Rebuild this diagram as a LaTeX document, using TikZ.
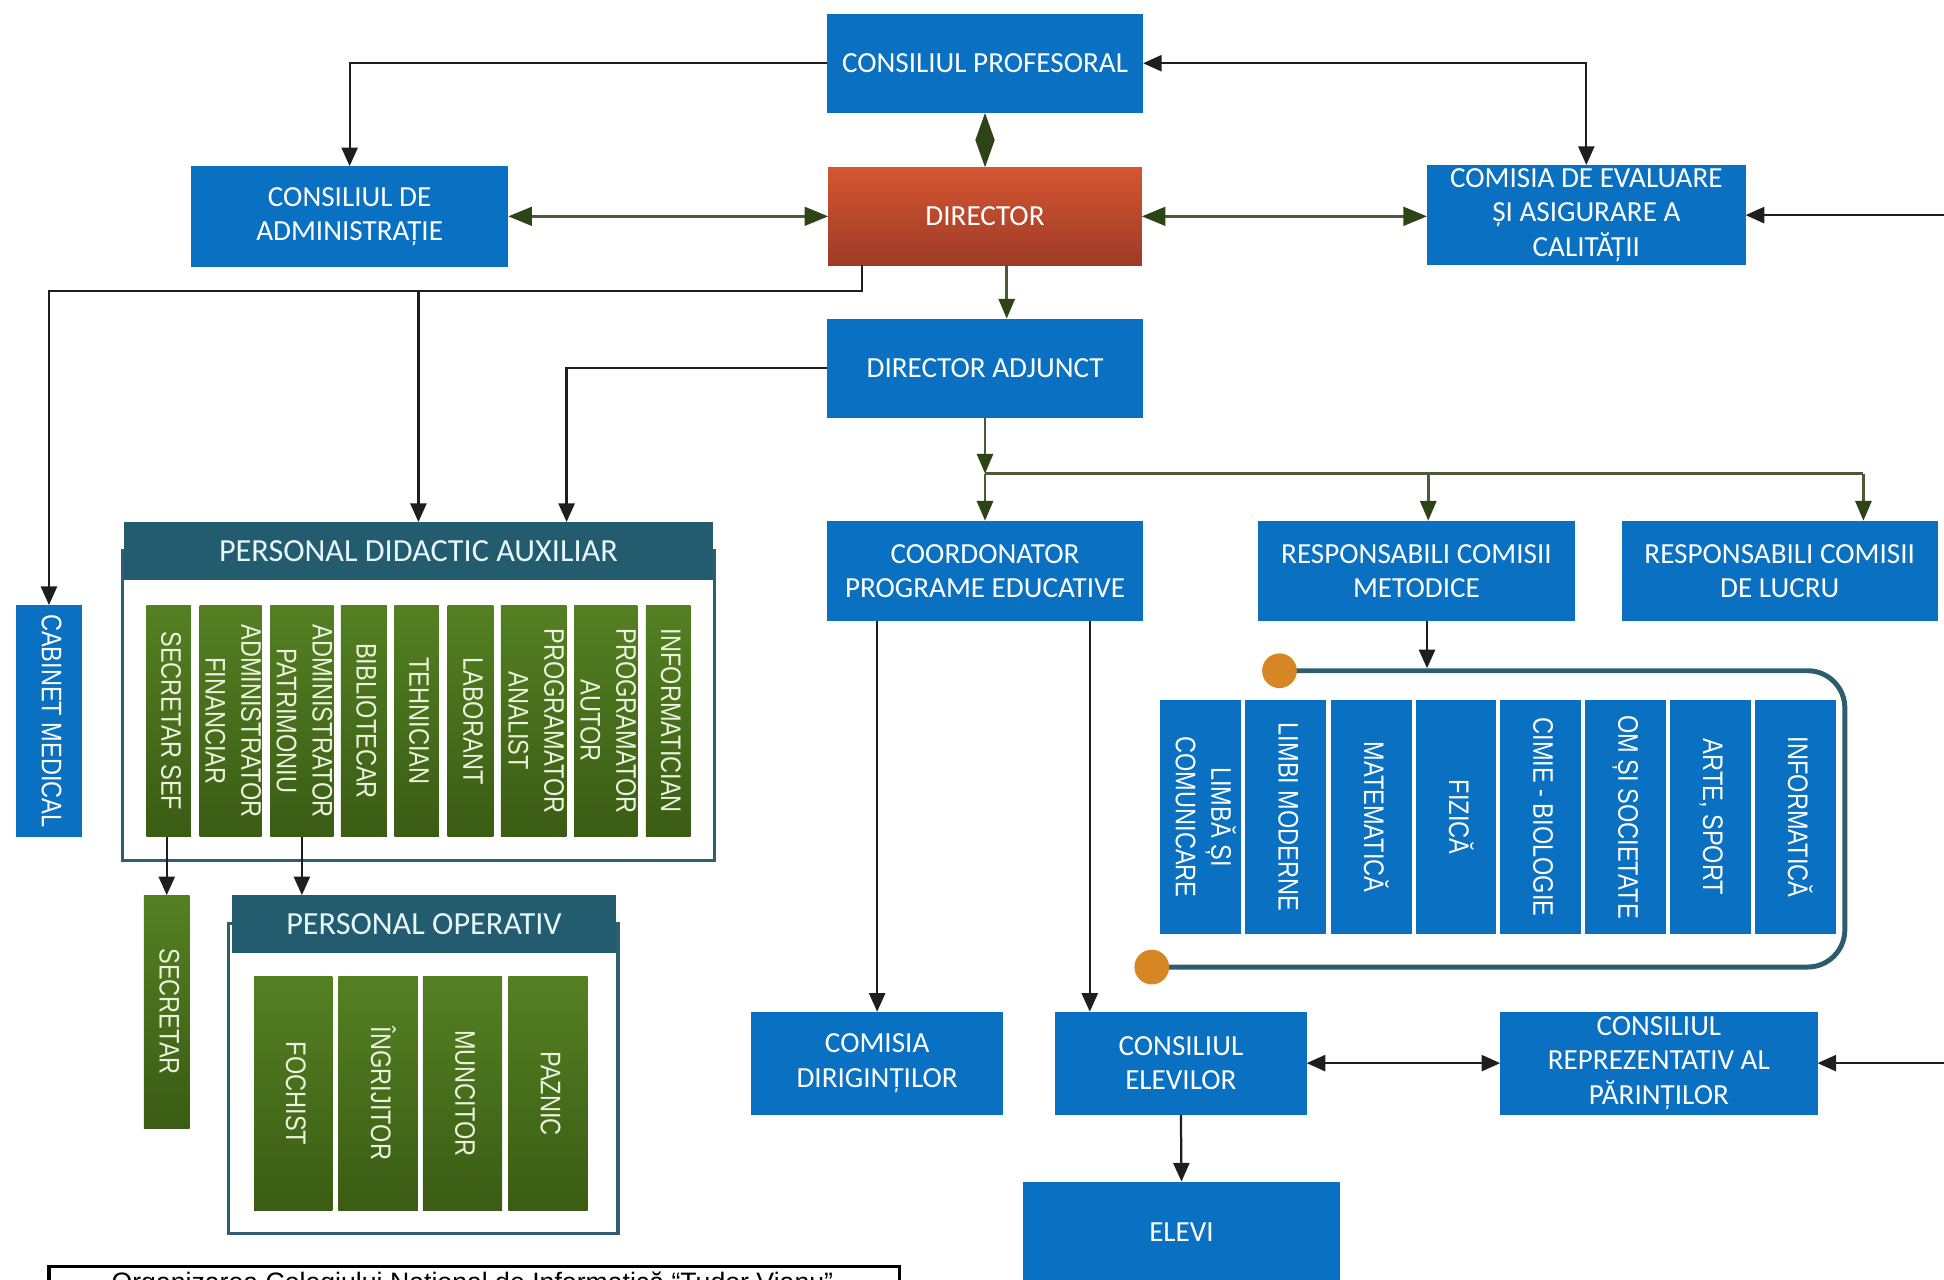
\documentclass[tikz,border=0pt]{standalone}
\usepackage{fontspec}
\usepackage{graphicx}
\setmainfont{Carlito}
\newfontfamily\colfnt{Liberation Sans}
\usetikzlibrary{arrows.meta,calc}
\definecolor{boxblue}{RGB}{10,112,194}
\definecolor{dirtop}{RGB}{212,86,50}
\definecolor{dirbot}{RGB}{158,58,38}
\definecolor{hdteal}{RGB}{34,92,110}
\definecolor{frteal}{RGB}{45,95,112}
\definecolor{gtop}{RGB}{84,128,34}
\definecolor{gbot}{RGB}{58,92,20}
\definecolor{grnline}{RGB}{75,90,55}
\definecolor{grnhead}{RGB}{45,68,22}
\definecolor{lineblk}{RGB}{30,30,30}
\definecolor{dotorange}{RGB}{214,134,36}
\definecolor{loopteal}{RGB}{44,92,110}
\definecolor{coltxt}{RGB}{236,242,222}
\newcommand\bxfnt{\fontsize{23.5}{27.5}\selectfont}
\newcommand\hdfnt{\fontsize{26}{30}\selectfont}
\newcommand\clfnt{\colfnt\fontsize{19}{24}\selectfont}
\newcommand\vtext[1]{\makebox[0pt]{\rotatebox{-90}{\scalebox{1}[1.2]{\begin{tabular}{@{}c@{}}#1\end{tabular}}}}}
\tikzset{
 bbox/.style={fill=boxblue, text=white, font=\bxfnt, align=center, inner sep=0pt, outer sep=0pt},
 dbox/.style={top color=dirtop, bottom color=dirbot, text=white, font=\bxfnt, align=center, inner sep=0pt, outer sep=0pt},
 hdbox/.style={fill=hdteal, text=white!90!cyan, font=\hdfnt, inner sep=0pt, outer sep=0pt},
 pframe/.style={draw=frteal, line width=2.5pt, inner sep=0pt, outer sep=0pt},
 gcol/.style={top color=gtop, bottom color=gbot, text=coltxt, font=\clfnt, inner sep=0pt, outer sep=0pt},
 bcol/.style={fill=boxblue, text=white, font=\clfnt, inner sep=0pt, outer sep=0pt, minimum height=188, minimum width=65},
 blk/.style={draw=lineblk, line width=1.8pt, -{Triangle[length=15pt,width=13pt]}},
 blkboth/.style={draw=lineblk, line width=1.8pt, {Triangle[length=15pt,width=13pt]}-{Triangle[length=15pt,width=13pt]}},
 grn/.style={draw=grnline, line width=2.2pt, -{Triangle[length=16pt,width=13pt,color=grnhead]}},
 grnboth/.style={draw=grnline, line width=2.2pt, {Triangle[length=19pt,width=15pt,color=grnhead]}-{Triangle[length=19pt,width=15pt,color=grnhead]}},
 diam/.style={draw=grnline, line width=2.2pt, {Triangle[length=22pt,width=15pt,color=grnhead]}-{Triangle[length=22pt,width=15pt,color=grnhead]}},
 odot/.style={circle, fill=dotorange, minimum size=28, inner sep=0pt, outer sep=0pt},
 loopline/.style={draw=loopteal, line width=4pt, rounded corners=30pt},
}
\begin{document}
\begin{tikzpicture}[x=1pt,y=-1pt]
\clip (0,0) rectangle (1568,1032);
\fill[white] (0,0) rectangle (1568,1032);

% top level boxes
\node[bbox, minimum width=255, minimum height=80] (cp) at (794.5,51) {CONSILIUL PROFESORAL};
\node[dbox, minimum width=253, minimum height=79] (dir) at (794.5,174.5) {DIRECTOR};
\node[bbox, minimum width=256, minimum height=81] (cda) at (282,174.5) {CONSILIUL DE\\ADMINISTRAȚIE};
\node[bbox, minimum width=257, minimum height=81] (ceac) at (1279.5,173.5) {COMISIA DE EVALUARE\\ȘI ASIGURARE A\\CALITĂȚII};
\node[bbox, minimum width=255, minimum height=80] (adj) at (794.5,297) {DIRECTOR ADJUNCT};
\node[bbox, minimum width=255, minimum height=81] (coord) at (794.5,460.5) {COORDONATOR\\PROGRAME EDUCATIVE};
\node[bbox, minimum width=255, minimum height=81] (metod) at (1142.5,460.5) {RESPONSABILI COMISII\\METODICE};
\node[bbox, minimum width=255, minimum height=81] (lucru) at (1435.5,460.5) {RESPONSABILI COMISII\\DE LUCRU};
\node[bbox, font=\clfnt, minimum width=53, minimum height=187] (cab) at (39.5,581.5) {\vtext{CABINET MEDICAL}};

% personal didactic auxiliar
\node[pframe, minimum width=477, minimum height=250] (pdaframe) at (337.5,569) {};
\node[hdbox, minimum width=475, minimum height=47] (pda) at (337.5,444.5) {PERSONAL DIDACTIC AUXILIAR};
\node[gcol, minimum width=36, minimum height=187] (p1) at (136,581.5) {\vtext{SECRETAR SEF}};
\node[gcol, minimum width=50, minimum height=187] (p2) at (186,581.5) {\vtext{ADMINISTRATOR\\FINANCIAR}};
\node[gcol, minimum width=51, minimum height=187] (p3) at (243.5,581.5) {\vtext{ADMINISTRATOR\\PATRIMONIU}};
\node[gcol, minimum width=37, minimum height=187] (p4) at (293.5,581.5) {\vtext{BIBLIOTECAR}};
\node[gcol, minimum width=36, minimum height=187] (p5) at (336,581.5) {\vtext{TEHNICIAN}};
\node[gcol, minimum width=37, minimum height=187] (p6) at (379.5,581.5) {\vtext{LABORANT}};
\node[gcol, minimum width=53, minimum height=187] (p7) at (430.5,581.5) {\vtext{PROGRAMATOR\\ANALIST}};
\node[gcol, minimum width=51, minimum height=187] (p8) at (488.5,581.5) {\vtext{PROGRAMATOR\\AUTOR}};
\node[gcol, minimum width=36, minimum height=187] (p9) at (539,581.5) {\vtext{INFORMATICIAN}};

% secretar and personal operativ
\node[gcol, minimum width=37, minimum height=188] (sec) at (134.5,816) {\vtext{SECRETAR}};
\node[pframe, minimum width=314, minimum height=250] (poframe) at (341.5,870) {};
\node[hdbox, minimum width=310, minimum height=47] (po) at (342,745.5) {PERSONAL OPERATIV};
\node[gcol, minimum width=63, minimum height=188] (o1) at (236.5,882) {\vtext{FOCHIST}};
\node[gcol, minimum width=64, minimum height=188] (o2) at (305,882) {\vtext{ÎNGRIJITOR}};
\node[gcol, minimum width=64, minimum height=188] (o3) at (373,882) {\vtext{MUNCITOR}};
\node[gcol, minimum width=64, minimum height=188] (o4) at (442,882) {\vtext{PAZNIC}};

% comisii metodice
\coordinate (loopR) at (1488,780);
\coordinate (dot1c) at (1032,541);
\coordinate (dot2c) at (929,780);
\draw[loopline] (dot1c) -| (loopR) -- (dot2c);
\node[odot] (dot1) at (dot1c) {};
\node[odot] (dot2) at (dot2c) {};
\coordinate (looptop) at (1151,539);
\node[bcol] (m1) at (968.5,659) {\vtext{LIMBĂ ȘI\\COMUNICARE}};
\node[bcol] (m2) at (1037,659) {\vtext{LIMBI MODERNE}};
\node[bcol] (m3) at (1106,659) {\vtext{MATEMATICĂ}};
\node[bcol] (m4) at (1174.5,659) {\vtext{FIZICĂ}};
\node[bcol] (m5) at (1242.5,659) {\vtext{CIMIE - BIOLOGIE}};
\node[bcol] (m6) at (1311,659) {\vtext{OM ȘI SOCIETATE}};
\node[bcol] (m7) at (1379.5,659) {\vtext{ARTE, SPORT}};
\node[bcol] (m8) at (1448,659) {\vtext{INFORMATICĂ}};

% lower boxes
\node[bbox, minimum width=203, minimum height=83] (dirig) at (707.5,857.5) {COMISIA\\DIRIGINȚILOR};
\node[bbox, minimum width=203, minimum height=83] (ce) at (952.5,857.5) {CONSILIUL\\ELEVILOR};
\node[bbox, minimum width=256, minimum height=83] (crp) at (1338,857.5) {CONSILIUL\\REPREZENTATIV AL\\PĂRINȚILOR};
\node[bbox, minimum width=256, minimum height=82] (elevi) at (953,994) {ELEVI};

% caption
\node[draw=black, line width=3pt, minimum width=686, minimum height=60, anchor=north west, inner sep=0pt] (capbox) at (38,1020) {};
\node[font=\colfnt\fontsize{21.5}{26}\selectfont, anchor=base, inner sep=0pt] (captxt) at (381,1041.5) {Organizarea Colegiului Național de Informatică “Tudor Vianu”};

% connectors
\coordinate (rin1) at (1568,173.5);
\coordinate (rin2) at (1568,857.5);
\coordinate (jleft) at (39.5,235);
\coordinate (jmid) at (337.5,235);
\coordinate (bus) at (794.5,382);
\coordinate (metin) at ($(metod.north west)+(137,0)$);
\coordinate (lucin) at ($(lucru.north west)+(195,0)$);

\draw[blk] (cp.west) -| (cda.north);
\draw[blkboth] (cp.east) -| (ceac.north);
\draw[diam] (cp.south) -- (dir.north);
\draw[grnboth] (cda.east) -- (dir.west);
\draw[grnboth] (dir.east) -- (dir.east -| ceac.west);
\draw[blk] (rin1) -- (rin1 -| ceac.east);
\draw[blk] ($(dir.south west)+(27,0)$) |- (jleft) -- (cab.north);
\draw[blk] (jmid) -- (pda.north);
\draw[blk] (adj.west) -| ($(pda.north west)+(357,0)$);
\draw[grn] ($(dir.south west)+(144,0)$) -- ($(adj.north west)+(145,0)$);
\draw[grn] (adj.south) -- (bus);
\draw[draw=grnline, line width=2.2pt] (bus) -- (bus -| lucin);
\draw[grn] (bus) -- (coord.north);
\draw[grn] (bus -| metin) -- (metin);
\draw[grn] (bus -| lucin) -- (lucin);
\draw[blk] ($(metod.south west)+(136,0)$) -- (looptop);
\draw[blk] (coord.south -| dirig.north) -- (dirig.north);
\draw[blk] ($(coord.south west)+(212,0)$) -- ($(ce.north west)+(28,0)$);
\draw[blkboth] (ce.east) -- (crp.west);
\draw[blk] (rin2) -- (crp.east);
\draw[blk] (ce.south) -- (elevi.north);
\draw[blk] (sec.north |- p1.south) -- (sec.north);
\draw[blk] (p3.south) -- (p3.south |- po.north);
\end{tikzpicture}
\end{document}
